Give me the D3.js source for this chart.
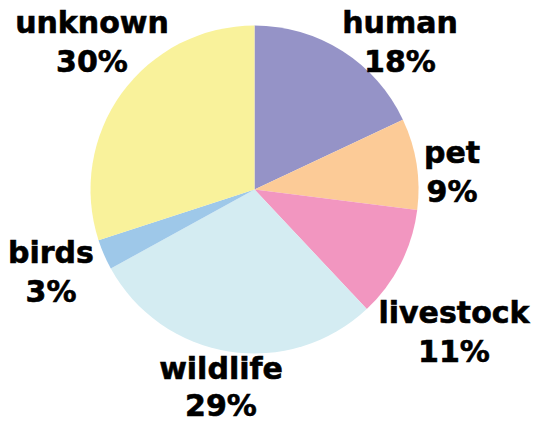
<!DOCTYPE html>
<html>
<head>
<meta charset="utf-8">
<script src="https://cdn.jsdelivr.net/npm/d3@7"></script>
<style>
  html, body { margin: 0; padding: 0; background: #ffffff; }
  svg { display: block; }
</style>
</head>
<body>
<svg id="chart" width="534" height="423"></svg>
<script>
// Data
const categories = ["human", "pet", "livestock", "wildlife", "birds", "unknown"];
const values = [18, 9, 11, 29, 3, 30];
const colors = ["#9593c7", "#fccb97", "#f296c0", "#d4ecf2", "#9ec8e9", "#f9f29b"];
// label anchor positions (center x, baseline of first line)
const labelX = [400, 452, 454, 221, 51, 92];
const labelY = [33, 163, 323, 379, 263, 33];
const lineGap = [39, 39, 39, 37, 39, 39];

const svg = d3.select("#chart");
const cx = 254.5, cy = 189.5, r = 164;

const data = categories.map((c, i) => ({ name: c, value: values[i], color: colors[i], lx: labelX[i], ly: labelY[i], gap: lineGap[i] }));

const pie = d3.pie().value(d => d.value).sort(null);
const arc = d3.arc().innerRadius(0).outerRadius(r);

const g = svg.append("g").attr("transform", `translate(${cx},${cy})`);
g.selectAll("path")
  .data(pie(data))
  .join("path")
  .attr("d", arc)
  .attr("fill", d => d.data.color);

const total = d3.sum(values);
const lab = svg.append("g")
  .attr("font-family", "'DejaVu Sans', sans-serif")
  .attr("font-weight", "bold")
  .attr("font-size", 30)
  .attr("fill", "#000")
  .attr("stroke", "#000")
  .attr("stroke-width", 0.6)
  .attr("text-anchor", "middle");

data.forEach(d => {
  const t = lab.append("text").attr("x", d.lx).attr("y", d.ly);
  t.append("tspan").attr("x", d.lx).attr("y", d.ly).text(d.name);
  t.append("tspan").attr("x", d.lx).attr("y", d.ly + d.gap).text(Math.round(d.value / total * 100) + "%");
});
</script>
</body>
</html>
